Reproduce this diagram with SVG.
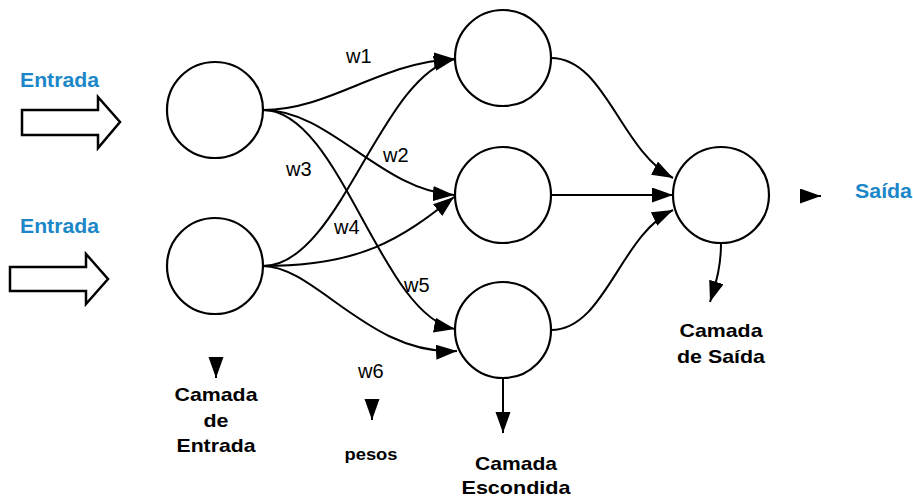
<svg xmlns="http://www.w3.org/2000/svg" width="913" height="497" viewBox="0 0 913 497">
<style>
.node{fill:#fff;stroke:#000;stroke-width:2.2}
.big{fill:#fff;stroke:#000;stroke-width:2.5}
.con{fill:none;stroke:#000;stroke-width:2;marker-end:url(#ah)}
.in{font-family:"Liberation Sans",Arial,sans-serif;font-weight:bold;font-size:20px;fill:#1b87c9}
.w{font-family:"Liberation Sans",Arial,sans-serif;font-size:20px;fill:#000}
.lbl{font-family:"Liberation Sans",Arial,sans-serif;font-weight:bold;font-size:19px;fill:#000;text-anchor:middle}
.sm{font-family:"Liberation Sans",Arial,sans-serif;font-weight:bold;font-size:16px;fill:#000;text-anchor:middle}
</style>
<defs>
<marker id="ah" markerUnits="userSpaceOnUse" markerWidth="22" markerHeight="16" refX="21" refY="7.5" orient="auto">
<path d="M0,0 L21,7.5 L0,15 z" fill="#000"/>
</marker>
</defs>
<rect width="913" height="497" fill="#fff"/>

<g id="entrada1">
<text class="in" x="20" y="87" textLength="79" lengthAdjust="spacingAndGlyphs">Entrada</text>
<path class="big" d="M22,110 L98,110 L98,97 L120,122 L98,148 L98,135 L22,135 z"/>
</g>
<g id="entrada2">
<text class="in" x="20" y="233" textLength="79" lengthAdjust="spacingAndGlyphs">Entrada</text>
<path class="big" d="M10,267 L86,267 L86,254 L108,279 L86,304 L86,291 L10,291 z"/>
</g>

<g id="in1"><circle class="node" cx="215" cy="110" r="48"/></g>
<g id="in2"><circle class="node" cx="215" cy="266" r="48"/></g>
<g id="h1"><circle class="node" cx="503" cy="58" r="48"/></g>
<g id="h2"><circle class="node" cx="503" cy="195" r="48"/></g>
<g id="h3"><circle class="node" cx="503" cy="330" r="48"/></g>
<g id="out"><circle class="node" cx="721" cy="195" r="48"/></g>

<g id="connectors">
<path class="con" d="M263,110 C330,110 380,62 455,59"/>
<path class="con" d="M263,110 C330,110 380,190 454,195"/>
<path class="con" d="M263,110 C340,110 380,315 455,329"/>
<path class="con" d="M263,266 C340,266 380,75 455,59"/>
<path class="con" d="M263,266 C360,266 400,240 454,197"/>
<path class="con" d="M263,266 C315,266 370,356 457,351"/>
<path class="con" d="M551,58 C605,58 620,150 673,178"/>
<path class="con" d="M551,195 L673,195"/>
<path class="con" d="M551,330 C605,330 620,235 673,210"/>
<path class="con" d="M503,378 L503,433"/>
<path class="con" d="M721,243 C721,265 717,280 710,302"/>
<path class="con" d="M216,357 L216,378"/>
<path class="con" d="M372,399 L372,420"/>
<path class="con" d="M801,196 L821,196"/>
</g>

<g id="weights">
<text class="w" x="346" y="63">w1</text>
<text class="w" x="383" y="162">w2</text>
<text class="w" x="286" y="176">w3</text>
<text class="w" x="334" y="234">w4</text>
<text class="w" x="404" y="292">w5</text>
<text class="w" x="358" y="378">w6</text>
</g>

<g id="label-entrada">
<text class="lbl" x="216" y="401" textLength="83" lengthAdjust="spacingAndGlyphs">Camada</text>
<text class="lbl" x="216" y="427" textLength="25" lengthAdjust="spacingAndGlyphs">de</text>
<text class="lbl" x="216" y="452" textLength="79" lengthAdjust="spacingAndGlyphs">Entrada</text>
</g>
<g id="label-pesos">
<text class="sm" x="371" y="460" textLength="53" lengthAdjust="spacingAndGlyphs">pesos</text>
</g>
<g id="label-escondida">
<text class="lbl" x="516" y="470" textLength="82" lengthAdjust="spacingAndGlyphs">Camada</text>
<text class="lbl" x="516" y="494" textLength="109" lengthAdjust="spacingAndGlyphs">Escondida</text>
</g>
<g id="label-saida-camada">
<text class="lbl" x="721" y="337" textLength="83" lengthAdjust="spacingAndGlyphs">Camada</text>
<text class="lbl" x="721" y="363" textLength="88" lengthAdjust="spacingAndGlyphs">de Saída</text>
</g>
<g id="saida">
<text class="in" x="855" y="198" textLength="57" lengthAdjust="spacingAndGlyphs">Saída</text>
</g>
</svg>
